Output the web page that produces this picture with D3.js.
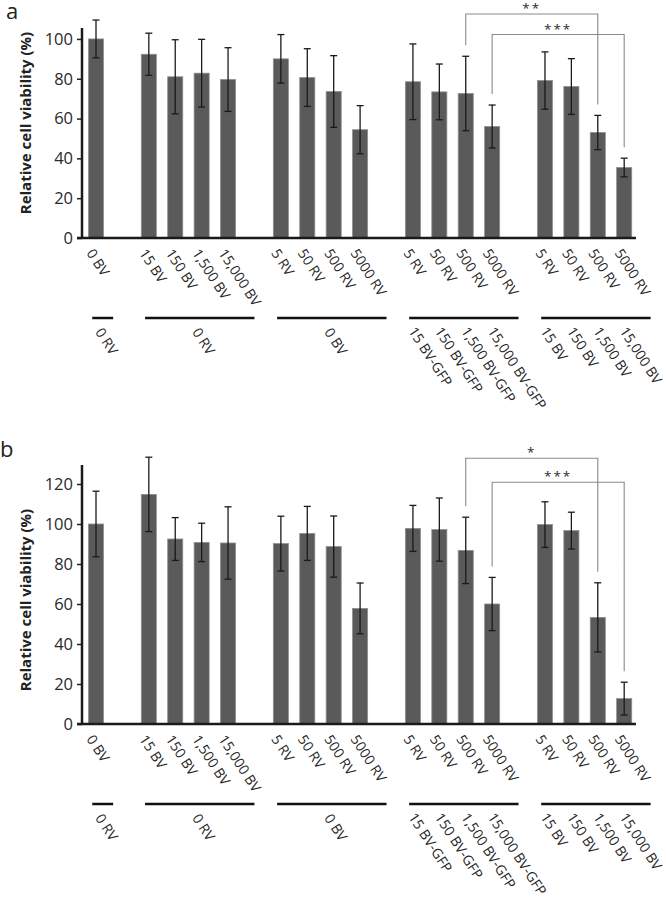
<!DOCTYPE html>
<html><head><meta charset="utf-8">
<script src="https://cdn.jsdelivr.net/npm/d3@7"></script>
<style>
html,body{margin:0;padding:0;background:#fff;}
svg{display:block;font-family:"Open Sans",sans-serif;}
</style></head>
<body>
<svg id="chart" width="666" height="900"></svg>
<script>
// ---------- data ----------
const barLabels = ["0 BV","15 BV","150 BV","1,500 BV","15,000 BV","5 RV","50 RV","500 RV","5000 RV","5 RV","50 RV","500 RV","5000 RV","5 RV","50 RV","500 RV","5000 RV"];
const groupSizes = [1,4,4,4,4];
const groupLabels = [["0 RV"],["0 RV"],["0 BV"],["15 BV-GFP","150 BV-GFP","1,500 BV-GFP","15,000 BV-GFP"],["15 BV","150 BV","1,500 BV","15,000 BV"]];

const valuesA = [100, 92.3, 81.0, 82.8, 79.6, 90.0, 80.6, 73.6, 54.4, 78.5, 73.4, 72.6, 56.0, 79.1, 76.1, 53.0, 35.4];
const errorsA = [9.5, 10.6, 18.6, 17.0, 16.0, 12.2, 14.5, 18.0, 12.1, 19.0, 14.0, 18.7, 10.8, 14.4, 14.0, 8.6, 4.7];
const valuesB = [100, 114.8, 92.5, 90.8, 90.5, 90.2, 95.3, 88.7, 57.8, 97.8, 97.2, 86.8, 60.0, 99.7, 96.7, 53.3, 12.7];
const errorsB = [16.4, 18.6, 10.7, 9.6, 18.1, 13.7, 13.5, 15.3, 12.7, 11.5, 15.8, 16.6, 13.3, 11.4, 9.2, 17.3, 8.2];

const yTicksA = [0,20,40,60,80,100];
const yTicksB = [0,20,40,60,80,100,120];

// significance: [from bar index, to bar index, stars, bracket level (value units)]
const sigA = [[11,15,"**",112.5],[12,16,"***",102.2]];
const sigB = [[11,15,"*",132.9],[12,16,"***",120.9]];

const yTitle = "Relative cell viability (%)";

// ---------- layout ----------
const svg = d3.select("#chart");
const slots = [];
const barSlot = [];
let bi = 0;
groupSizes.forEach((n, g) => {
  if (g > 0) slots.push("gap" + g);
  for (let k = 0; k < n; k++) { barSlot.push("s" + bi); slots.push("s" + bi); bi++; }
});
const x = d3.scaleBand().domain(slots).range([82.8, 637.4]).paddingInner(0.43).paddingOuter(0.215);
const bw = x.bandwidth();
const xc = i => x(barSlot[i]) + bw / 2;
const labelFont = "14px";

function panel(opts) {
  const {values, errors, ticks, yMax, yBottom, yTop, sig, letter, letterX, letterY, titleY} = opts;
  const y = d3.scaleLinear().domain([0, yMax]).range([yBottom, yTop]);
  const g = svg.append("g");

  // bars
  g.selectAll("rect.bar").data(values).join("rect")
    .attr("x", (d, i) => x(barSlot[i]))
    .attr("y", d => y(d))
    .attr("width", bw)
    .attr("height", d => y(0) - y(d))
    .attr("fill", "#5a5a5a")
    .attr("stroke", "#8e8e8e")
    .attr("stroke-width", 0.8);

  // error bars
  const eb = g.selectAll("g.err").data(values).join("g");
  eb.append("line")
    .attr("x1", (d, i) => xc(i)).attr("x2", (d, i) => xc(i))
    .attr("y1", (d, i) => y(d + errors[i])).attr("y2", (d, i) => y(d - errors[i]))
    .attr("stroke", "#1a1a1a").attr("stroke-width", 1.3);
  [1, -1].forEach(s => {
    eb.append("line")
      .attr("x1", (d, i) => xc(i) - 3.5).attr("x2", (d, i) => xc(i) + 3.5)
      .attr("y1", (d, i) => y(d + s * errors[i])).attr("y2", (d, i) => y(d + s * errors[i]))
      .attr("stroke", "#1a1a1a").attr("stroke-width", 1.3);
  });

  // y axis
  const ax = g.append("g").attr("transform", "translate(82,0)")
    .call(d3.axisLeft(y).tickValues(ticks).tickSize(5).tickSizeOuter(0).tickPadding(4));
  ax.select(".domain").remove();
  ax.selectAll(".tick line").attr("stroke", "#222").attr("stroke-width", 1.5);
  ax.selectAll(".tick text").attr("fill", "#2a2a2a").style("font-size", "16.5px").style("font-family", "'Open Sans',sans-serif");
  g.append("line").attr("x1", 82).attr("x2", 82).attr("y1", y(yMax)).attr("y2", y(0) + 1)
    .attr("stroke", "#1a1a1a").attr("stroke-width", 2.5);
  // x axis
  g.append("line").attr("x1", 77).attr("x2", 636).attr("y1", y(0)).attr("y2", y(0))
    .attr("stroke", "#1a1a1a").attr("stroke-width", 2.5);

  // bar labels
  g.selectAll("text.bl").data(barLabels).join("text")
    .attr("transform", (d, i) => `translate(${xc(i) - 10},${y(0) + 15}) rotate(57)`)
    .attr("fill", "#262626").style("font-size", labelFont)
    .text(d => d);

  // group lines and labels
  let start = 0;
  const lineY = y(0) + 80;
  groupSizes.forEach((n, gi) => {
    const first = start, last = start + n - 1;
    const x1 = xc(first) - 0.25 * bw;
    const x2 = n > 1 ? xc(last) + x.step() : xc(last) + 0.65 * x.step();
    g.append("line").attr("x1", x1).attr("x2", x2).attr("y1", lineY).attr("y2", lineY)
      .attr("stroke", "#111").attr("stroke-width", 2.5);
    const labs = groupLabels[gi];
    if (labs.length === 1) {
      g.append("text")
        .attr("transform", `translate(${(x1 + x2) / 2 - 8},${lineY + 14}) rotate(57)`)
        .attr("fill", "#262626").style("font-size", labelFont).text(labs[0]);
    } else {
      labs.forEach((t, k) => {
        g.append("text")
          .attr("transform", `translate(${xc(first + k) - 5},${lineY + 13}) rotate(57)`)
          .attr("fill", "#262626").style("font-size", labelFont).text(t);
      });
    }
    start += n;
  });

  // significance brackets
  sig.forEach(([a, b, stars, lvl]) => {
    const ly = y(lvl);
    const la = y(values[a] + errors[a]) - 11;
    const lb = y(values[b] + errors[b]) - 11;
    g.append("path")
      .attr("d", `M${xc(a)},${la}V${ly}H${xc(b)}V${lb}`)
      .attr("fill", "none").attr("stroke", "#8a8a8a").attr("stroke-width", 1.1);
    g.append("text")
      .attr("x", (xc(a) + xc(b)) / 2).attr("y", ly - 1)
      .attr("text-anchor", "middle").attr("fill", "#2a2a2a")
      .style("font-size", "13.5px").style("letter-spacing", "2px")
      .text(stars);
  });

  // y title
  g.append("text")
    .attr("transform", `translate(31,${titleY}) rotate(-90)`)
    .attr("text-anchor", "middle").attr("fill", "#222")
    .style("font-size", "15px").style("font-weight", "bold")
    .text(yTitle);

  // panel letter
  g.append("text").attr("x", letterX).attr("y", letterY)
    .attr("fill", "#222").style("font-size", "22px").text(letter);
}

panel({values: valuesA, errors: errorsA, ticks: yTicksA, yMax: 105.5, yBottom: 238, yTop: 28,
  sig: sigA, letter: "a", letterX: 6, letterY: 19, titleY: 123});
panel({values: valuesB, errors: errorsB, ticks: yTicksB, yMax: 129.5, yBottom: 724, yTop: 465,
  sig: sigB, letter: "b", letterX: 0, letterY: 457, titleY: 600});
</script>
</body></html>
